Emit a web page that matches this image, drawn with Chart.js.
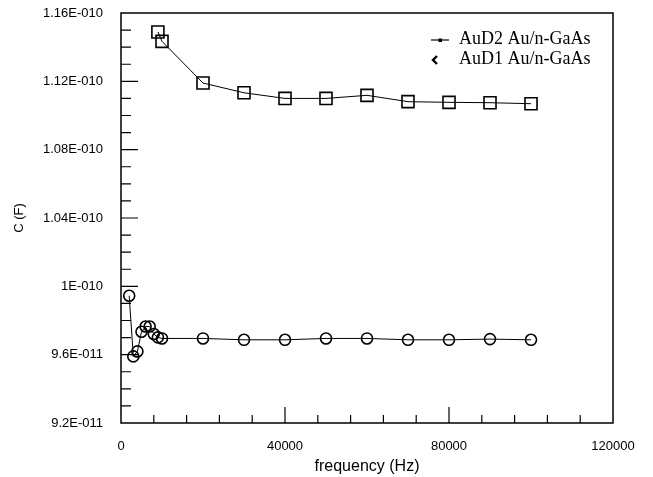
<!DOCTYPE html>
<html>
<head>
<meta charset="utf-8">
<script src="https://cdn.jsdelivr.net/npm/chart.js@4"></script>
<style>
  html, body { margin: 0; padding: 0; background: #fff; }
  #wrap { width: 653px; height: 477px; }
</style>
</head>
<body>
<div id="wrap"><canvas id="capChart" width="653" height="477"></canvas></div>
<script>
// AuD2 Au/n-GaAs (squares)
const freqD2 = [9000, 10000, 20000, 30000, 40000, 50000, 60000, 70000, 80000, 90000, 100000];
const capD2 = [1.1489e-10, 1.1434e-10, 1.1190e-10, 1.1133e-10, 1.1100e-10, 1.1100e-10,
               1.1118e-10, 1.1081e-10, 1.1077e-10, 1.1075e-10, 1.1069e-10];

// AuD1 Au/n-GaAs (circles)
const freqD1 = [2000, 3000, 4000, 5000, 6000, 7000, 8000, 9000, 10000,
                20000, 30000, 40000, 50000, 60000, 70000, 80000, 90000, 100000];
const capD1 = [9.945e-11, 9.590e-11, 9.619e-11, 9.734e-11, 9.765e-11, 9.765e-11, 9.721e-11, 9.701e-11, 9.695e-11,
               9.695e-11, 9.687e-11, 9.687e-11, 9.695e-11, 9.695e-11, 9.687e-11, 9.687e-11, 9.691e-11, 9.687e-11];

const seriesNames = ['AuD2 Au/n-GaAs', 'AuD1 Au/n-GaAs'];

// tick labels
const xTicks = [0, 40000, 80000, 120000];
const xTickLabels = ['0', '40000', '80000', '120000'];
const yTicks = [9.2e-11, 9.6e-11, 1e-10, 1.04e-10, 1.08e-10, 1.12e-10, 1.16e-10];
const yTickLabels = ['9.2E-011', '9.6E-011', '1E-010', '1.04E-010', '1.08E-010', '1.12E-010', '1.16E-010'];
const xMinorStep = 8000;
const yMinorStep = 1e-12;

const toPoints = (xs, ys) => xs.map((x, i) => ({ x: x, y: ys[i] }));

// frame, inward ticks and the legend
const framePlugin = {
    id: 'frame',
    afterDraw(chart) {
        const ctx = chart.ctx;
        const area = chart.chartArea;
        const xs = chart.scales.x;
        const ys = chart.scales.y;
        ctx.save();
        ctx.strokeStyle = '#000';
        ctx.lineWidth = 1.5;
        ctx.strokeRect(area.left, area.top, area.right - area.left, area.bottom - area.top);

        ctx.lineWidth = 1.2;
        ctx.beginPath();
        const nx = Math.round((xs.max - xs.min) / xMinorStep);
        for (let k = 1; k < nx; k++) {
            const v = xs.min + k * xMinorStep;
            const px = xs.getPixelForValue(v);
            const len = (k % 5 === 0) ? 16 : 8;
            ctx.moveTo(px, area.bottom);
            ctx.lineTo(px, area.bottom - len);
        }
        const ny = Math.round((ys.max - ys.min) / yMinorStep);
        for (let k = 1; k < ny; k++) {
            const v = ys.min + k * yMinorStep;
            const py = ys.getPixelForValue(v);
            const len = (k % 4 === 0) ? 17 : 10;
            ctx.moveTo(area.left, py);
            ctx.lineTo(area.left + len, py);
        }
        ctx.stroke();

        // legend
        ctx.fillStyle = '#000';
        ctx.font = '18px "Liberation Serif", "Times New Roman", serif';
        ctx.textBaseline = 'middle';
        ctx.textAlign = 'left';
        ctx.fillText(seriesNames[0], 459, 39);
        ctx.fillText(seriesNames[1], 459, 59);
        ctx.lineWidth = 1.2;
        ctx.beginPath();
        ctx.moveTo(431, 40);
        ctx.lineTo(449, 40);
        ctx.stroke();
        ctx.fillRect(438.5, 38.5, 3.5, 3.5);
        ctx.lineWidth = 2.4;
        ctx.beginPath();
        ctx.moveTo(437, 56);
        ctx.lineTo(433, 60);
        ctx.lineTo(437, 64);
        ctx.stroke();
        ctx.restore();
    }
};

document.addEventListener('DOMContentLoaded', () => {
    const ctx = document.getElementById('capChart').getContext('2d');

    new Chart(ctx, {
        type: 'scatter',
        data: {
            datasets: [{
                label: seriesNames[0],
                data: toPoints(freqD2, capD2),
                showLine: true,
                borderColor: '#000',
                borderWidth: 1,
                pointStyle: 'rect',
                pointRadius: 8.5,
                pointBorderWidth: 1.6,
                pointBorderColor: '#000',
                pointBackgroundColor: 'rgba(0,0,0,0)'
            }, {
                label: seriesNames[1],
                data: toPoints(freqD1, capD1),
                showLine: true,
                borderColor: '#000',
                borderWidth: 1,
                pointStyle: 'circle',
                pointRadius: 5.5,
                pointBorderWidth: 1.6,
                pointBorderColor: '#000',
                pointBackgroundColor: 'rgba(0,0,0,0)'
            }]
        },
        options: {
            responsive: false,
            animation: false,
            layout: { padding: { top: 13, right: 40, left: 0, bottom: 0 } },
            plugins: {
                legend: { display: false },
                tooltip: { enabled: false }
            },
            scales: {
                x: {
                    type: 'linear',
                    min: 0,
                    max: 120000,
                    grid: { display: false },
                    border: { display: false },
                    afterBuildTicks: (scale) => { scale.ticks = xTicks.map(v => ({ value: v })); },
                    afterFit: (scale) => {
                        scale.height = 54;
                        scale.paddingLeft = 0;
                        scale.paddingRight = 0;
                    },
                    ticks: {
                        color: '#000',
                        padding: 8,
                        maxRotation: 0,
                        font: { family: '"Liberation Sans", Arial, sans-serif', size: 13 },
                        callback: (v, i) => xTickLabels[i]
                    },
                    title: {
                        display: true,
                        text: 'frequency (Hz)',
                        color: '#000',
                        padding: { top: 0, bottom: 1 },
                        font: { family: '"Liberation Sans", Arial, sans-serif', size: 16 }
                    }
                },
                y: {
                    type: 'linear',
                    min: 9.2e-11,
                    max: 1.16e-10,
                    grid: { display: false },
                    border: { display: false },
                    afterBuildTicks: (scale) => { scale.ticks = yTicks.map(v => ({ value: v })); },
                    afterFit: (scale) => {
                        scale.width = 121;
                        scale.paddingTop = 0;
                        scale.paddingBottom = 0;
                    },
                    ticks: {
                        color: '#000',
                        padding: 10,
                        font: { family: '"Liberation Sans", Arial, sans-serif', size: 13 },
                        callback: (v, i) => yTickLabels[i]
                    },
                    title: {
                        display: true,
                        text: 'C (F)',
                        color: '#000',
                        padding: { top: 12, bottom: 0 },
                        font: { family: '"Liberation Sans", Arial, sans-serif', size: 13 }
                    }
                }
            }
        },
        plugins: [framePlugin]
    });
});
</script>
</body>
</html>
